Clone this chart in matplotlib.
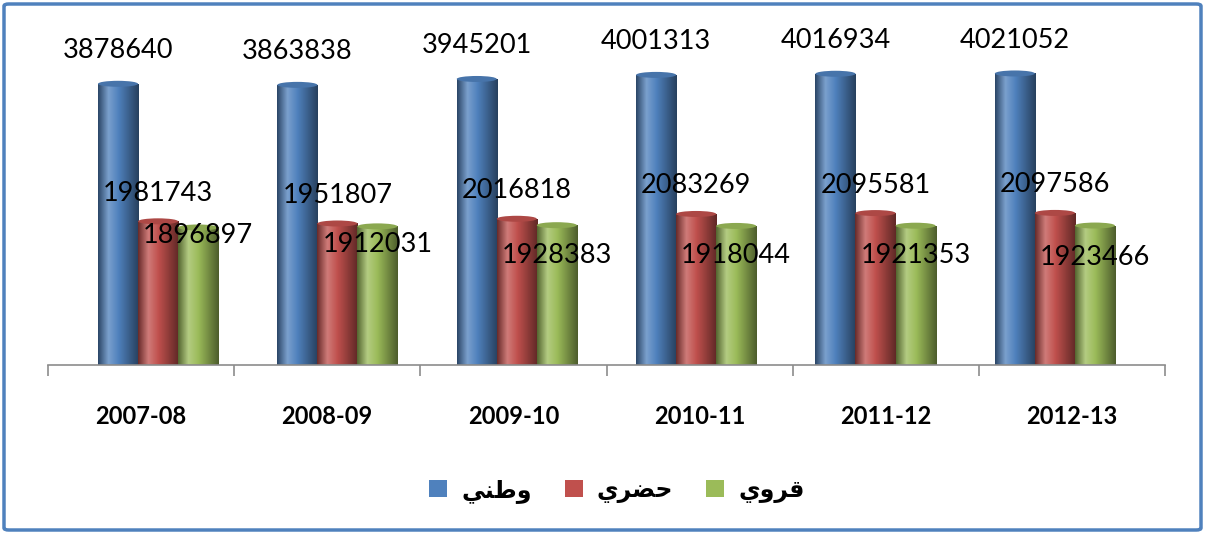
import matplotlib
matplotlib.use("Agg")
import matplotlib.pyplot as plt
import numpy as np
from matplotlib.colors import LinearSegmentedColormap, to_rgb
from matplotlib.patches import FancyBboxPatch, Ellipse, Patch

# ---- data ----
years = ["2007-08", "2008-09", "2009-10", "2010-11", "2011-12", "2012-13"]
national = [3878640, 3863838, 3945201, 4001313, 4016934, 4021052]
urban = [1981743, 1951807, 2016818, 2083269, 2095581, 2097586]
rural = [1896897, 1912031, 1928383, 1918044, 1921353, 1923466]
# legend names (وطني, حضري, قروي) in shaped Arabic presentation forms, visual order
series_names = ["\uFEF2\uFEE8\uFEC3\uFEED", "\uFEF1\uFEAE\uFEC0\uFEA3", "\uFEF1\uFEED\uFEAE\uFED7"]

colors = ["#4f81bd", "#c0504d", "#9bbb59"]
label_dy = [[33] * 6, [28] * 6, [-8, -18, -30, -30, -30, -32]]  # px offsets of value labels

W, H = 1205, 534
fig = plt.figure(figsize=(W / 100, H / 100), dpi=100)
fig.patch.set_facecolor("white")
fig.patches.append(FancyBboxPatch((4 / W, 4 / H), 1 - 8 / W, 1 - 8 / H,
                                  boxstyle="round,pad=0,rounding_size=0.004",
                                  transform=fig.transFigure, fill=False,
                                  edgecolor="#4f81bd", linewidth=2.5))

ax = fig.add_axes([48 / W, 169 / H, 1117 / W, 333.5 / H])
ymax = 4.6e6
n = len(years)
x = np.arange(n)
bw = 0.215
offsets = [-bw, 0, bw]
# 3D perspective drift of the bar groups relative to the category slots
shift = 0.091 - 0.0365 * x
data = [national, urban, rural]


def shade_cmap(c):
    r = np.array(to_rgb(c))
    dark = r * 0.55
    light = np.clip(r + (1 - r) * 0.25, 0, 1)
    return LinearSegmentedColormap.from_list("s", [dark, light, r, r * 0.75, r * 0.5])


px_per_unit = 333.5 / ymax
for si, (vals, c, off) in enumerate(zip(data, colors, offsets)):
    bars = ax.bar(x + shift + off, vals, width=bw, color=c, zorder=2 + si * 0.1, linewidth=0)
    cm = shade_cmap(c)
    grad = np.linspace(0, 1, 64).reshape(1, -1)
    for bi, b in enumerate(bars):
        x0, w, h = b.get_x(), b.get_width(), b.get_height()
        im = ax.imshow(grad, extent=[x0, x0 + w, 0, h], aspect="auto", cmap=cm,
                       zorder=2 + si * 0.1, interpolation="bilinear")
        im.set_clip_path(b)
        r = np.array(to_rgb(c))
        ax.add_patch(Ellipse((x0 + w / 2, h), w, 6 / px_per_unit,
                             facecolor=np.clip(r * 0.9, 0, 1), edgecolor="none",
                             zorder=2.05 + si * 0.1))
        ax.annotate(str(vals[bi]), (x0 + w / 2, h), xytext=(0, label_dy[si][bi] * 0.72),
                    textcoords="offset points", ha="center", va="center",
                    fontsize=19.5, family="Lato", color="black", zorder=5)

ax.set_xlim(-0.5, n - 0.5)
ax.set_ylim(0, ymax)
for s in ["top", "right", "left"]:
    ax.spines[s].set_visible(False)
ax.spines["bottom"].set_color("#8c8c8c")
ax.spines["bottom"].set_linewidth(1.2)
ax.set_yticks([])
ax.set_xticks(x)
ax.set_xticklabels(years, fontsize=17, fontweight="bold", family="Lato")
ax.tick_params(axis="x", which="major", length=0, pad=29)
ax.set_xticks(np.arange(-0.5, n, 1), minor=True)
ax.tick_params(axis="x", which="minor", length=8, color="#8c8c8c", width=1.2)
ax.set_facecolor("none")

handles = [Patch(facecolor=c, edgecolor="none") for c in colors]
leg = fig.legend(handles, series_names, loc="center", bbox_to_anchor=(0.512, 0.082),
                 ncol=3, frameon=False, handlelength=0.75, handleheight=0.7,
                 columnspacing=1.4, handletextpad=0.6,
                 prop={"family": "DejaVu Sans", "weight": "bold", "size": 17})

fig.savefig("out.png", dpi=100, facecolor="white")
